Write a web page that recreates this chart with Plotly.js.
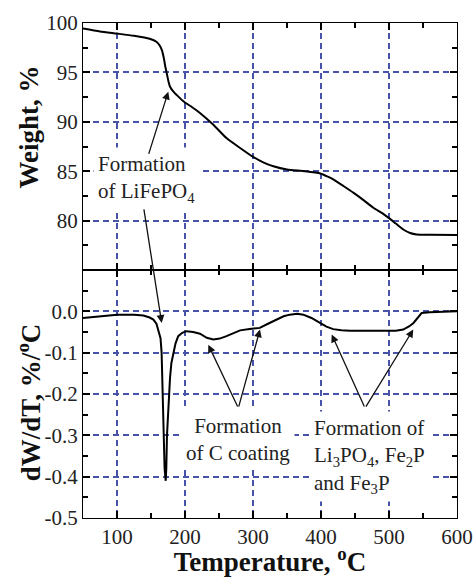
<!DOCTYPE html>
<html>
<head>
<meta charset="utf-8">
<script src="https://cdn.plot.ly/plotly-3.0.1.min.js"></script>
</head>
<body style="margin:0">
<div id="chart"></div>
<script>
// Top panel: weight vs temperature
const weightT = [50,75,100,125,148,158,163,166,169,171,173.5,176,178,183,188,199,210,222,241.7,261,280,299,315,330,350,375,399,410,418.6,433,448,463,477,490,499,510,521,531,540.7,560,600];
const weightPct = [99.44,99.15,98.93,98.7,98.4,98.1,97.7,97.25,96.4,95.6,94.8,94.0,93.55,93.05,92.7,92.0,91.5,90.9,89.7,88.35,87.4,86.5,85.9,85.5,85.17,85.0,84.77,84.45,84.15,83.5,82.8,82.05,81.3,80.75,80.3,79.7,79.1,78.75,78.6,78.57,78.55];
// Bottom panel: derivative
const dtgT = [50,75,100,125,138.7,148,153.5,158,161,164,165.6,167,168.3,170,171.6,172.5,173.5,175.5,178,180,183,186,190,196,202,212,222,232,241.7,251,261,271,281,295,310,322,334.8,345,354,365,374,386,398.5,408,418,430,442.6,467,491.6,510,521,530,536,542,548,560,580,600];
const dtgVal = [-0.016,-0.012,-0.008,-0.008,-0.010,-0.015,-0.02,-0.03,-0.045,-0.065,-0.10,-0.20,-0.30,-0.38,-0.41,-0.38,-0.30,-0.22,-0.16,-0.125,-0.10,-0.078,-0.06,-0.052,-0.048,-0.05,-0.054,-0.064,-0.068,-0.066,-0.06,-0.052,-0.046,-0.043,-0.04,-0.03,-0.02,-0.012,-0.008,-0.006,-0.008,-0.016,-0.028,-0.037,-0.043,-0.046,-0.047,-0.047,-0.048,-0.047,-0.044,-0.036,-0.028,-0.015,-0.004,-0.002,-0.001,0];

const xTicks = [100,200,300,400,500,600];
const xTickText = ['100','200','300','400','500','600'];
const wTicks = [80,85,90,95,100];
const wTickText = ['80','85','90','95','100'];
const dTicks = [-0.5,-0.4,-0.3,-0.2,-0.1,0.0];
const dTickText = ['-0.5','-0.4','-0.3','-0.2','-0.1','0.0'];

const FONT_A = 'Liberation Serif';
const gridCol = '#4653a8';

function tf(size, color) { return {family: FONT_A, size: size, color: color}; }

const traces = [
  {x: weightT, y: weightPct, xaxis:'x', yaxis:'y', mode:'lines', line:{color:'#000', width:2, shape:'spline', smoothing:0.6}, hoverinfo:'skip'},
  {x: dtgT, y: dtgVal, xaxis:'x2', yaxis:'y2', mode:'lines', line:{color:'#000', width:2}, hoverinfo:'skip'}
];

function ax(extra) {
  const base = {
    showline:true, linecolor:'#000', linewidth:1.3, mirror:'ticks',
    ticks:'inside', ticklen:7, tickwidth:1.5, tickcolor:'#000',
    showgrid:true, gridcolor:gridCol, griddash:'6px,4px', gridwidth:1.5,
    zeroline:false, tickfont:tf(21, '#222')
  };
  return Object.assign(base, extra);
}

const layout = {
  width:474, height:577,
  margin:{l:83, r:17, t:23, b:59},
  paper_bgcolor:'#fff', plot_bgcolor:'#fff',
  showlegend:false,
  xaxis: ax({domain:[0,1], anchor:'y', range:[50,600], tickmode:'array', tickvals:xTicks, ticktext:xTickText, showticklabels:false,
    minor:{tick0:50, dtick:50, ticks:'inside', ticklen:5, tickcolor:'#000', showgrid:false}}),
  yaxis: ax({domain:[0.501,1], anchor:'x', range:[75,100], tickmode:'array', tickvals:wTicks, ticktext:wTickText,
    minor:{tick0:75, dtick:2.5, ticks:'inside', ticklen:5, tickcolor:'#000', showgrid:false}}),
  xaxis2: ax({domain:[0,1], anchor:'y2', range:[50,600], tickmode:'array', tickvals:xTicks, ticktext:xTickText,
    minor:{tick0:50, dtick:50, ticks:'inside', ticklen:5, tickcolor:'#000', showgrid:false},
    title:{text:'<b>Temperature, <sup>o</sup>C</b>', font:tf(27, '#111'), standoff:4}}),
  yaxis2: ax({domain:[0,0.501], anchor:'x2', range:[-0.5,0.1], tickmode:'array', tickvals:dTicks, ticktext:dTickText,
    minor:{tick0:-0.5, dtick:0.05, ticks:'inside', ticklen:5, tickcolor:'#000', showgrid:false}}),
  annotations: [
    // y axis titles
    {xref:'paper', yref:'paper', x:0, y:0.789, xshift:-54, xanchor:'center', yanchor:'middle', textangle:-90, showarrow:false,
     text:'<b>Weight, %</b>', font:tf(27, '#111')},
    {xref:'paper', yref:'paper', x:0, y:0.234, xshift:-54, xanchor:'center', yanchor:'middle', textangle:-90, showarrow:false,
     text:'<b>dW/dT, %/<sup>o</sup>C</b>', font:tf(27, '#111')},
    // labels
    {xref:'x', yref:'y', x:65, y:84.2, xanchor:'left', yanchor:'middle', align:'left', showarrow:false,
     text:'Formation<br>of LiFePO<sub>4</sub>', font:tf(21, '#222'), bgcolor:'#fff', borderpad:4},
    {xref:'x2', yref:'y2', x:278, y:-0.31, xanchor:'center', yanchor:'middle', align:'center', showarrow:false,
     text:'Formation<br>of C coating', font:tf(21, '#222'), bgcolor:'#fff', borderpad:4},
    {xref:'x2', yref:'y2', x:383, y:-0.352, xanchor:'left', yanchor:'middle', align:'left', showarrow:false,
     text:'Formation of<br>Li<sub>3</sub>PO<sub>4</sub>, Fe<sub>2</sub>P<br>and Fe<sub>3</sub>P', font:tf(21, '#222'), bgcolor:'#fff', borderpad:4},
    // arrows
    {xref:'x', yref:'y', x:175.4, y:93.05, axref:'x', ayref:'y', ax:146, ay:86.6, text:'', showarrow:true, arrowhead:2, arrowsize:1.2, arrowwidth:1.3, arrowcolor:'#111', standoff:0},
    {xref:'x2', yref:'y2', x:165.7, y:-0.028, ax:-18, ay:-115, text:'', showarrow:true, arrowhead:2, arrowsize:1.2, arrowwidth:1.3, arrowcolor:'#111', standoff:0},
    {xref:'x2', yref:'y2', x:234.3, y:-0.081, axref:'x2', ayref:'y2', ax:278.4, ay:-0.234, text:'', showarrow:true, arrowhead:2, arrowsize:1.2, arrowwidth:1.3, arrowcolor:'#111', standoff:0},
    {xref:'x2', yref:'y2', x:310.3, y:-0.044, axref:'x2', ayref:'y2', ax:278.4, ay:-0.234, text:'', showarrow:true, arrowhead:2, arrowsize:1.2, arrowwidth:1.3, arrowcolor:'#111', standoff:0},
    {xref:'x2', yref:'y2', x:415.7, y:-0.056, axref:'x2', ayref:'y2', ax:464.7, ay:-0.234, text:'', showarrow:true, arrowhead:2, arrowsize:1.2, arrowwidth:1.3, arrowcolor:'#111', standoff:0},
    {xref:'x2', yref:'y2', x:535.7, y:-0.044, axref:'x2', ayref:'y2', ax:464.7, ay:-0.234, text:'', showarrow:true, arrowhead:2, arrowsize:1.2, arrowwidth:1.3, arrowcolor:'#111', standoff:0}
  ]
};

Plotly.newPlot('chart', traces, layout, {displayModeBar:false});
</script>
</body>
</html>
